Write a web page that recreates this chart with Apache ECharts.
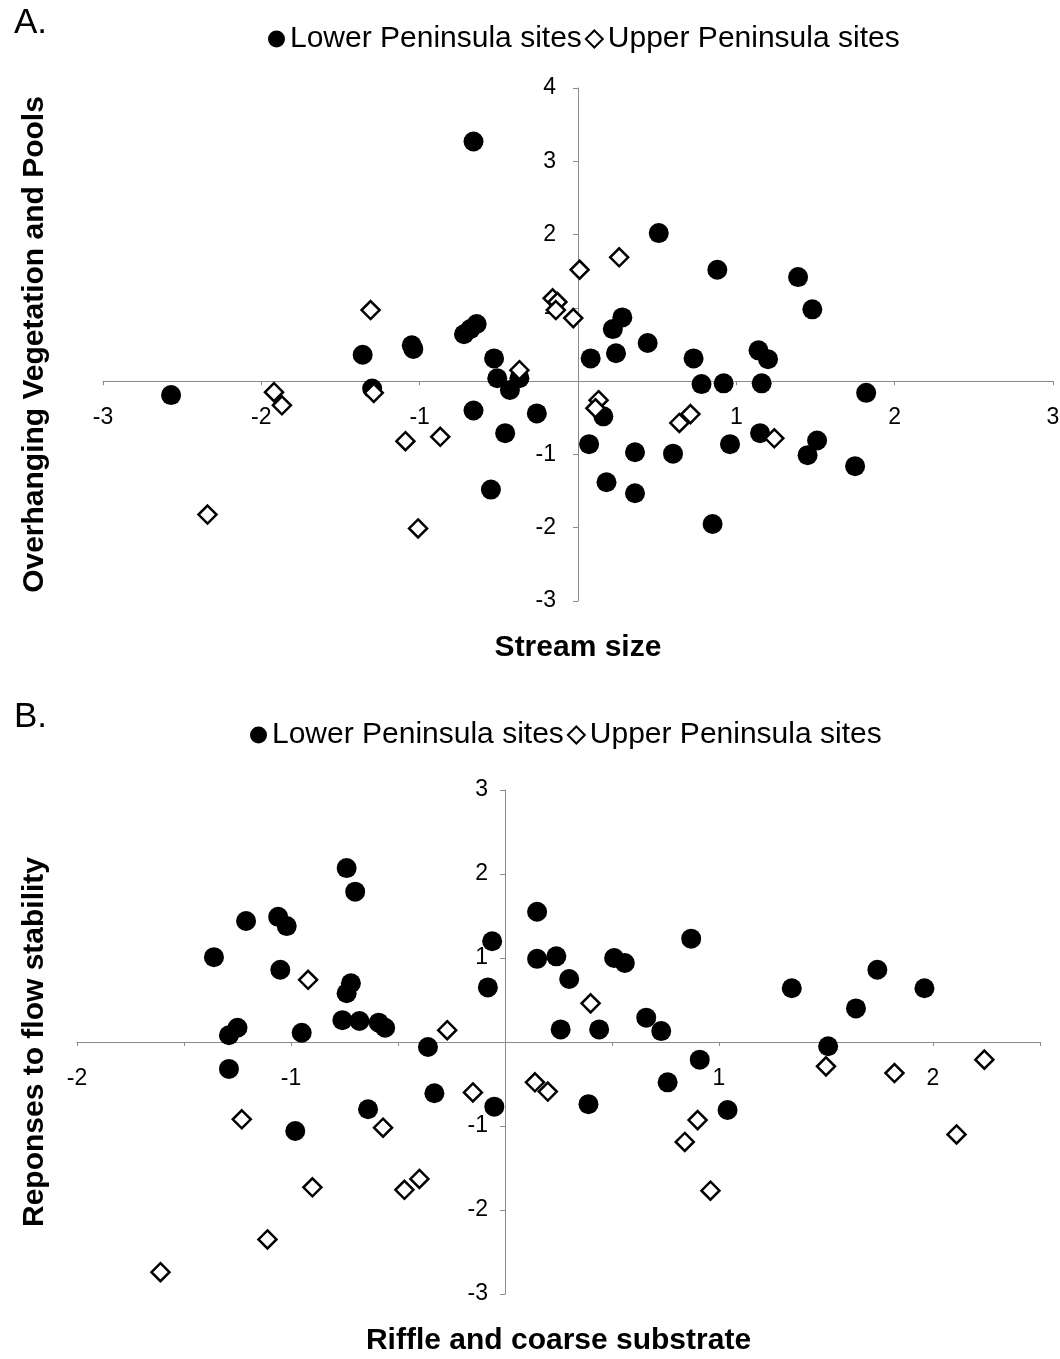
<!DOCTYPE html>
<html>
<head>
<meta charset="utf-8">
<script src="https://cdn.jsdelivr.net/npm/echarts@6/dist/echarts.min.js"></script>
<style>
html,body{margin:0;padding:0;background:#fff;}
#chart{width:1060px;height:1359px;}
</style>
</head>
<body>
<div id="chart"></div>
<script>
const seriesNames = ['Lower Peninsula sites', 'Upper Peninsula sites'];
const panelTitles = ['A.', 'B.'];
const xTitles = ['Stream size', 'Riffle and coarse substrate'];
const yTitles = ['Overhanging Vegetation and Pools', 'Reponses to flow stability'];

// ---- Panel A data: Stream size (x) vs Overhanging Vegetation and Pools (y)
const lowerA = [
  [-2.57,-0.19],[-0.66,3.27],[-1.36,0.36],[-1.05,0.49],[-1.04,0.44],
  [-0.72,0.64],[-0.68,0.71],[-0.64,0.78],[-0.53,0.31],[-0.51,0.04],
  [-0.37,0.04],[-0.43,-0.12],[-1.30,-0.10],[-0.66,-0.40],[-0.26,-0.44],
  [-0.46,-0.71],[-0.55,-1.48],
  [0.51,2.02],[0.88,1.52],[1.39,1.42],[1.48,0.98],[0.28,0.87],[0.22,0.71],
  [0.44,0.52],[0.08,0.31],[0.24,0.38],[0.73,0.31],[1.14,0.42],[1.20,0.30],
  [0.78,-0.04],[0.92,-0.03],[1.16,-0.03],[1.82,-0.16],[0.16,-0.48],
  [0.07,-0.86],[0.36,-0.97],[0.60,-0.99],[0.96,-0.86],[1.15,-0.71],
  [1.51,-0.81],[1.45,-1.01],[1.75,-1.16],[0.18,-1.38],[0.36,-1.53],[0.85,-1.95]
];
const upperA = [
  [-2.34,-1.82],[-1.92,-0.15],[-1.87,-0.33],[-1.31,0.97],[-1.29,-0.16],
  [-1.09,-0.82],[-0.87,-0.76],[-1.01,-2.01],[-0.37,0.15],[-0.16,1.13],
  [-0.13,1.08],[-0.14,0.97],[-0.03,0.86],[0.01,1.52],[0.26,1.69],
  [0.13,-0.26],[0.11,-0.37],[0.71,-0.45],[0.64,-0.57],[1.24,-0.78]
];

// ---- Panel B data: Riffle and coarse substrate (x) vs Reponses to flow stability (y)
const lowerB = [
  [-0.74,2.07],[-0.70,1.79],[-1.21,1.44],[-1.06,1.49],[-1.02,1.38],
  [-1.36,1.01],[-1.05,0.86],[-0.72,0.70],[-0.74,0.58],[-0.76,0.26],
  [-0.68,0.25],[-0.59,0.23],[-0.56,0.17],[-1.25,0.17],[-1.29,0.08],
  [-0.95,0.11],[-0.36,-0.06],[-0.06,1.20],[-0.08,0.65],[-1.29,-0.32],
  [-0.98,-1.06],[-0.64,-0.80],[-0.33,-0.61],[-0.05,-0.77],
  [0.15,1.55],[0.15,0.99],[0.24,1.02],[0.30,0.75],[0.51,1.00],[0.56,0.94],
  [0.87,1.23],[0.26,0.15],[0.44,0.15],[0.66,0.29],[0.73,0.13],[0.91,-0.21],
  [1.34,0.64],[1.51,-0.05],[1.64,0.40],[1.74,0.86],[1.96,0.64],
  [0.76,-0.48],[0.39,-0.74],[1.04,-0.81]
];
const upperB = [
  [-0.92,0.74],[-0.27,0.14],[-0.15,-0.60],[-1.23,-0.92],[-0.57,-1.02],
  [-0.90,-1.73],[-0.47,-1.76],[-0.40,-1.63],[-1.11,-2.35],[-1.61,-2.74],
  [0.40,0.46],[1.50,-0.29],[1.82,-0.37],[2.24,-0.21],[0.14,-0.48],
  [0.20,-0.59],[0.90,-0.93],[0.84,-1.19],[0.96,-1.77],[2.11,-1.10]
];

const FONT = "'Liberation Sans', Arial, sans-serif";
const axisGray = '#8a8a8a';

function tickFmt(v){
  if (v === 0 || Math.abs(v - Math.round(v)) > 1e-9) return '';
  return String(Math.round(v));
}

function xAxisCfg(gi, min, max, interval, nameGap, margin){
  return {
    type:'value', gridIndex:gi, min:min, max:max, interval:interval,
    splitLine:{show:false},
    axisLine:{onZero:true, lineStyle:{color:axisGray, width:1}},
    axisTick:{show:true, length:4, lineStyle:{color:axisGray}},
    axisLabel:{formatter:tickFmt, color:'#000', fontFamily:FONT, fontSize:23, margin:margin,
               showMinLabel:true, showMaxLabel:true, hideOverlap:false},
    name:xTitles[gi], nameLocation:'middle', nameGap:nameGap,
    nameTextStyle:{color:'#000', fontFamily:FONT, fontSize:30, fontWeight:'bold'}
  };
}
function yAxisCfg(gi, min, max, nameGap, margin){
  return {
    type:'value', gridIndex:gi, min:min, max:max, interval:1,
    splitLine:{show:false},
    axisLine:{onZero:true, lineStyle:{color:axisGray, width:1}},
    axisTick:{show:true, length:5, lineStyle:{color:axisGray}},
    axisLabel:{formatter:tickFmt, color:'#000', fontFamily:FONT, fontSize:23, margin:margin, hideOverlap:false},
    name:yTitles[gi], nameLocation:'middle', nameRotate:90, nameGap:nameGap,
    nameTextStyle:{color:'#000', fontFamily:FONT, fontSize:30, fontWeight:'bold'}
  };
}

const circleStyle = {color:'#000', opacity:1};
const diamondStyle = {color:'#fff', borderColor:'#000', borderWidth:2.5, opacity:1};

function mkSeries(name, gi, data, isUpper){
  return {
    name:name, type:'scatter', xAxisIndex:gi, yAxisIndex:gi, data:data,
    symbol: isUpper ? 'diamond' : 'circle',
    symbolSize: isUpper ? 18 : 20,
    itemStyle: isUpper ? diamondStyle : circleStyle,
    z: isUpper ? 3 : 2,
    animation:false
  };
}

function legendCfg(gi, left, top){
  return {
    show:true, orient:'horizontal', left:left, top:top, itemGap:3,
    itemWidth:17, itemHeight:17,
    textStyle:{color:'#000', fontFamily:FONT, fontSize:30},
    data:[
      {name:seriesNames[0], icon:'circle', itemStyle:{color:'#000', opacity:1}},
      {name:seriesNames[1], icon:'diamond', itemStyle:{color:'#fff', borderColor:'#000', borderWidth:2, opacity:1}}
    ],
    selectedMode:false
  };
}

const chart = echarts.init(document.getElementById('chart'), null, {renderer:'canvas'});
chart.setOption({
  backgroundColor:'#fff',
  animation:false,
  title:[
    {text:panelTitles[0], left:9, top:1, textStyle:{color:'#000', fontFamily:FONT, fontSize:35, fontWeight:'normal'}},
    {text:panelTitles[1], left:9, top:695, textStyle:{color:'#000', fontFamily:FONT, fontSize:35, fontWeight:'normal'}}
  ],
  legend:[legendCfg(0, 263, 19), legendCfg(1, 245, 715)],
  grid:[
    {left:103, right:7, top:88, height:513, containLabel:false, outerBoundsMode:'none'},
    {left:77, right:20, top:790, height:504, containLabel:false, outerBoundsMode:'none'}
  ],
  xAxis:[xAxisCfg(0, -3, 3, 1, 32, -195), xAxisCfg(1, -2, 2.5, 0.5, 32, -227)],
  yAxis:[yAxisCfg(0, -3, 4, 53, -453), yAxisCfg(1, -3, 3, 27, -411)],
  series:[
    mkSeries(seriesNames[0], 0, lowerA, false),
    mkSeries(seriesNames[1], 0, upperA, true),
    mkSeries(seriesNames[0], 1, lowerB, false),
    mkSeries(seriesNames[1], 1, upperB, true)
  ]
});
</script>
</body>
</html>
